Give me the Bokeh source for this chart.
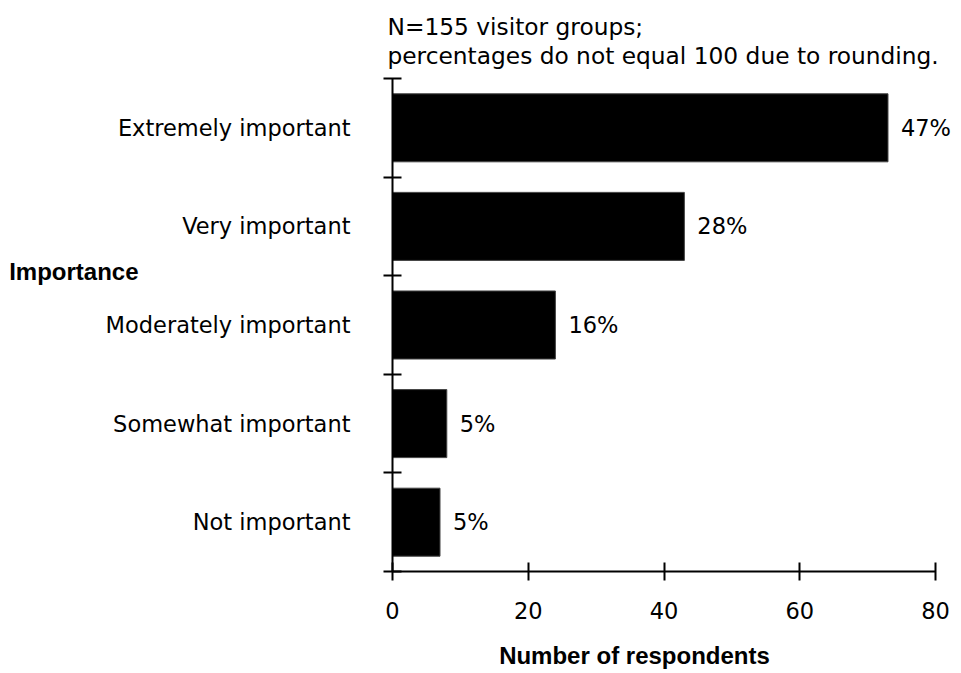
from bokeh.plotting import figure
from bokeh.models import FixedTicker, Range1d, LinearAxis
from bokeh.core.properties import value
from bokeh.embed import file_html
from bokeh.resources import INLINE

categories = ["Extremely important", "Very important", "Moderately important",
              "Somewhat important", "Not important"]
counts = [73, 43, 24, 8, 7]
percent_labels = ["47%", "28%", "16%", "5%", "5%"]
x_ticks = [0, 20, 40, 60, 80]
note_lines = ["N=155 visitor groups;", "percentages do not equal 100 due to rounding."]
y_title = "Importance"
x_title = "Number of respondents"

FONT = "DejaVu Sans"
BOLD_FONT = "Liberation Sans"
FS = "22.5px"
NOTE_FS = "23.3px"

n = len(categories)
ypos = [n - i - 0.5 for i in range(n)]

p = figure(width=961, height=673, output_backend="svg", toolbar_location=None,
           x_range=Range1d(0, 83.83), y_range=Range1d(0, n),
           min_border_left=392, min_border_right=0, min_border_top=78,
           min_border_bottom=102, title="\n".join(note_lines))
p.outline_line_color = None
p.xgrid.grid_line_color = None
p.ygrid.grid_line_color = None

p.title.align = "left"
p.title.offset = -5
p.title.standoff = 18
p.title.text_font = FONT
p.title.text_font_size = NOTE_FS
p.title.text_font_style = "normal"
p.title.text_color = "black"
p.title.text_line_height = 1.08

p.hbar(y=ypos, left=0, right=counts, height=0.69, fill_color="black",
       line_color="#444444", line_width=1)

p.text(x=counts, y=ypos, text=percent_labels, x_offset=13,
       text_baseline="middle", text_align="left",
       text_font=value(FONT), text_font_size=FS, text_color="black")

# y axis
ya = p.yaxis[0]
ya.ticker = FixedTicker(ticks=ypos, minor_ticks=list(range(n + 1)))
ya.major_label_overrides = {y: c for y, c in zip(ypos, categories)}
ya.major_tick_line_color = None
ya.major_tick_out = 0
ya.major_tick_in = 0
ya.minor_tick_in = 9
ya.minor_tick_out = 9
ya.minor_tick_line_color = "black"
ya.minor_tick_line_width = 2
ya.axis_line_width = 2
ya.axis_line_color = "black"
ya.major_label_standoff = 33
ya.major_label_text_font = FONT
ya.major_label_text_font_size = FS
ya.major_label_text_color = "black"

# y title as a label-only axis
y_title_pos = 3.04
ax2 = LinearAxis(ticker=FixedTicker(ticks=[y_title_pos], minor_ticks=[]),
                 major_label_overrides={y_title_pos: y_title},
                 axis_line_color=None, major_tick_line_color=None,
                 minor_tick_line_color=None, major_tick_in=0, major_tick_out=0,
                 minor_tick_in=0, minor_tick_out=0,
                 major_label_standoff=-36,
                 major_label_text_font=BOLD_FONT,
                 major_label_text_font_style="bold",
                 major_label_text_font_size="24px",
                 major_label_text_color="black")
p.add_layout(ax2, "left")

# x axis
xa = p.xaxis[0]
xa.ticker = FixedTicker(ticks=x_ticks, minor_ticks=[])
xa.bounds = (0, 80)
xa.major_tick_in = 9
xa.major_tick_out = 9
xa.major_tick_line_width = 2
xa.major_tick_line_color = "black"
xa.axis_line_width = 2
xa.axis_line_color = "black"
xa.major_label_standoff = 21
xa.major_label_text_font = FONT
xa.major_label_text_font_size = FS
xa.major_label_text_color = "black"

# x title as a label-only axis
x_title_pos = 35.65
ax3 = LinearAxis(ticker=FixedTicker(ticks=[x_title_pos], minor_ticks=[]),
                 major_label_overrides={x_title_pos: x_title},
                 axis_line_color=None, major_tick_line_color=None,
                 minor_tick_line_color=None, major_tick_in=0, major_tick_out=0,
                 minor_tick_in=0, minor_tick_out=0,
                 major_label_standoff=20,
                 major_label_text_font=BOLD_FONT,
                 major_label_text_font_style="bold",
                 major_label_text_font_size="24px",
                 major_label_text_color="black")
p.add_layout(ax3, "below")

open("out.html", "w").write(file_html(p, INLINE))
